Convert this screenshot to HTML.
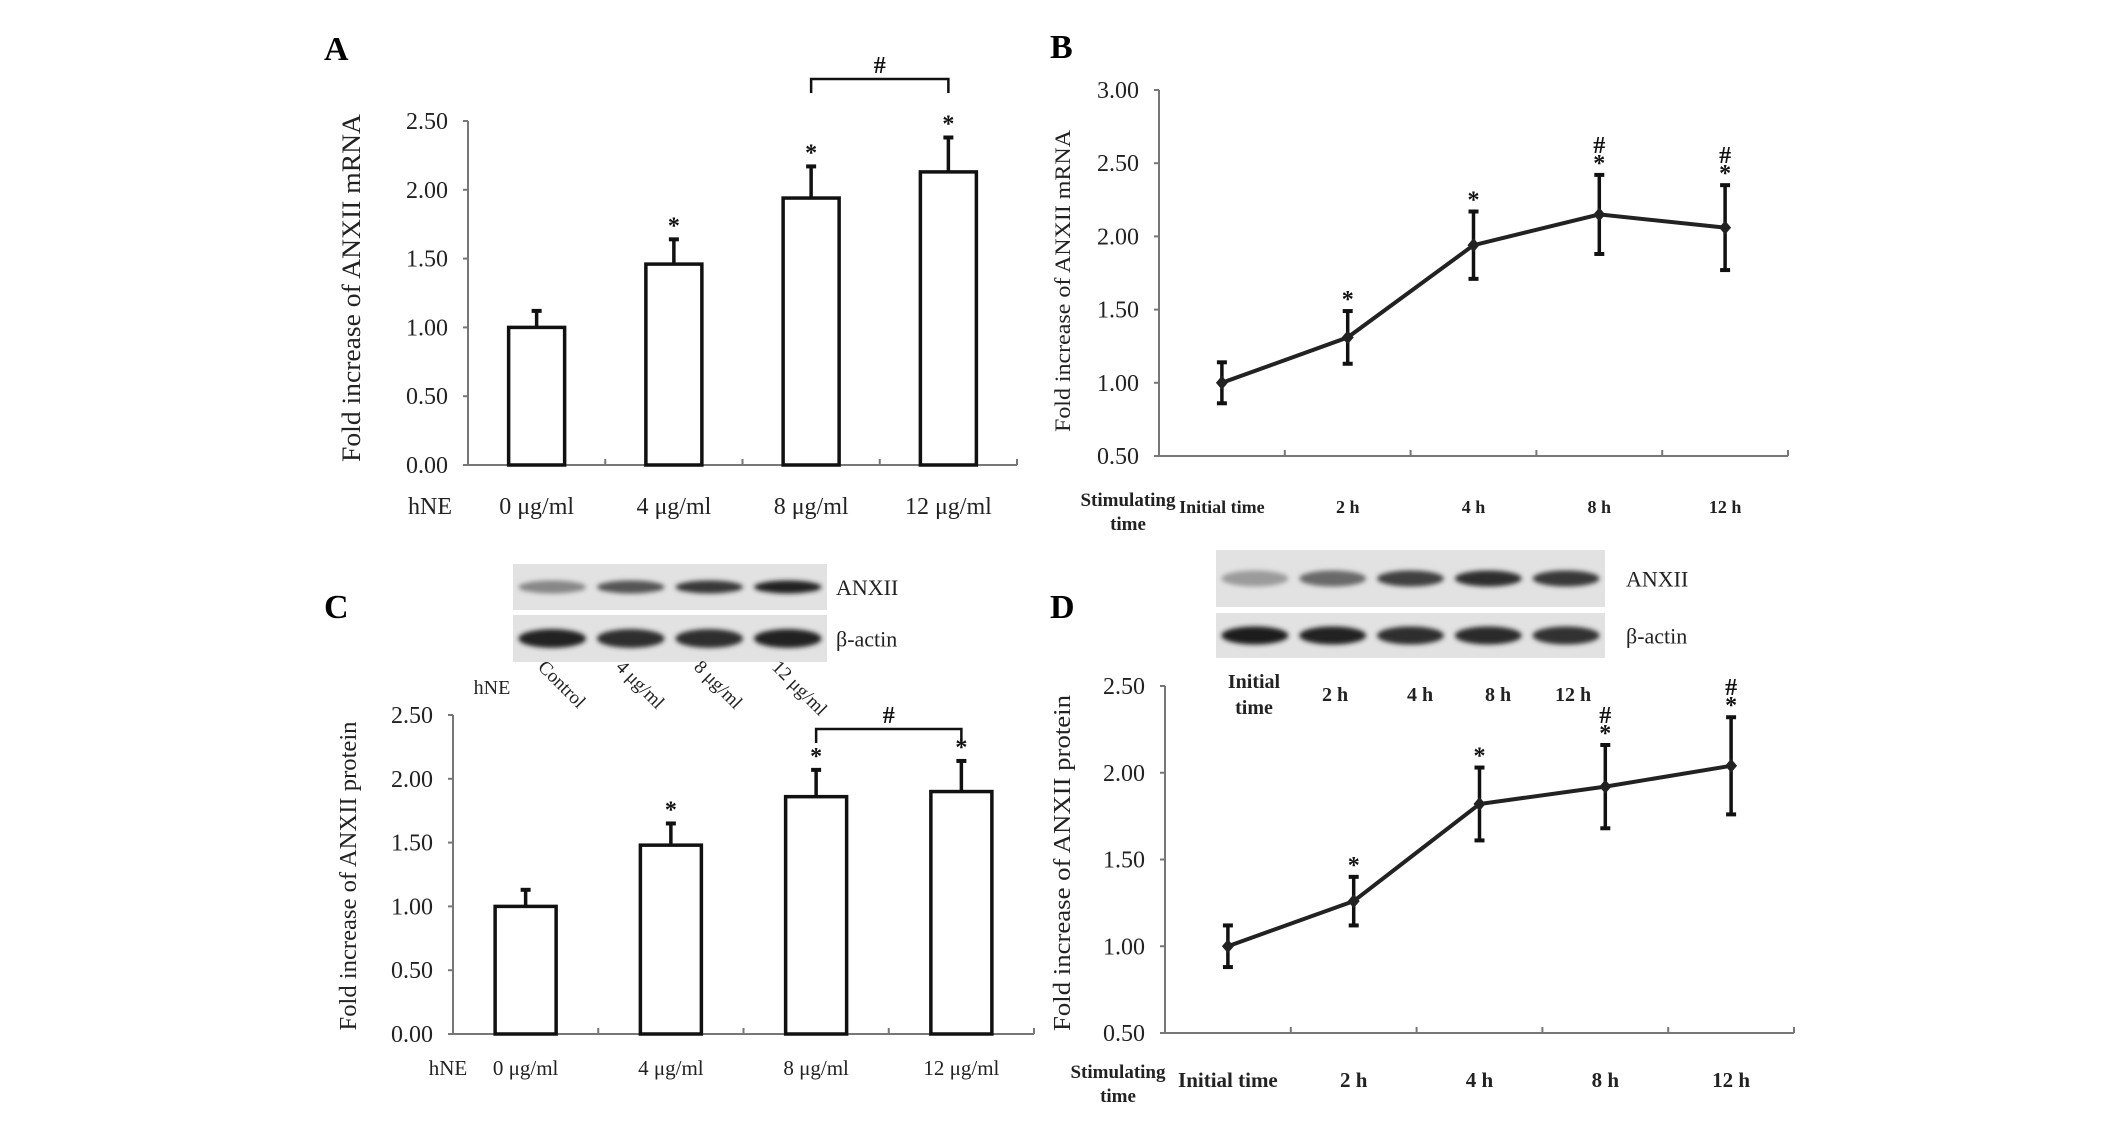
<!DOCTYPE html>
<html><head><meta charset="utf-8"><style>
html,body{margin:0;padding:0;background:#fff;overflow:hidden;}
svg{display:block;font-family:"Liberation Serif",serif;}
</style></head><body>
<svg id="fig" width="2126" height="1145" viewBox="0 0 2126 1145" xmlns="http://www.w3.org/2000/svg">
<defs>
<filter id="blur" x="-20%" y="-80%" width="140%" height="260%"><feGaussianBlur stdDeviation="2.5"/></filter>
</defs>
<text x="324" y="60" font-size="34" font-weight="bold">A</text>
<text x="1050" y="58" font-size="34" font-weight="bold">B</text>
<text x="324" y="618" font-size="34" font-weight="bold">C</text>
<text x="1050" y="618" font-size="34" font-weight="bold">D</text>
<g id="layer"></g>
</svg>
<script>
// Panel A data
const catsA = ["0 μg/ml","4 μg/ml","8 μg/ml","12 μg/ml"];
const valsA = [1.00,1.46,1.94,2.13];
const errA = [0.12,0.18,0.23,0.25];
const starA = [false,true,true,true];
const ticksA = ["0.00","0.50","1.00","1.50","2.00","2.50"];
// Panel B data
const catsB = ["Initial time","2 h","4 h","8 h","12 h"];
const valsB = [1.00,1.31,1.94,2.15,2.06];
const errB = [0.14,0.18,0.23,0.27,0.29];
const starB = [false,true,true,true,true];
const hashB = [false,false,false,true,true];
const ticksB = ["0.50","1.00","1.50","2.00","2.50","3.00"];
// Panel C data
const catsC = ["0 μg/ml","4 μg/ml","8 μg/ml","12 μg/ml"];
const valsC = [1.00,1.48,1.86,1.90];
const errC = [0.13,0.17,0.21,0.24];
const starC = [false,true,true,true];
const ticksC = ["0.00","0.50","1.00","1.50","2.00","2.50"];
// Panel D data
const catsD = ["Initial time","2 h","4 h","8 h","12 h"];
const valsD = [1.00,1.26,1.82,1.92,2.04];
const errD = [0.12,0.14,0.21,0.24,0.28];
const starD = [false,true,true,true,true];
const hashD = [false,false,false,true,true];
const ticksD = ["0.50","1.00","1.50","2.00","2.50"];
// Blot intensities (0-1 darkness)
const blotCTop = [0.45,0.7,0.85,0.95];
const blotCBot = [0.95,0.9,0.9,0.95];
const blotDTop = [0.35,0.6,0.8,0.9,0.85];
const blotDBot = [0.98,0.95,0.9,0.92,0.88];

const NS="http://www.w3.org/2000/svg";
const layer=document.getElementById('layer');
function mk(tag,attrs,parent,text){const e=document.createElementNS(NS,tag);for(const k in attrs)e.setAttribute(k,attrs[k]);if(text!==undefined)e.textContent=text;(parent||layer).appendChild(e);return e;}

function axes(p){
  const g=mk('g',{});
  
  
  mk('line',{x1:p.x0,y1:p.yTop,x2:p.x0,y2:p.yBot,stroke:'#777','stroke-width':2},g);
  mk('line',{x1:p.x0,y1:p.yBot,x2:p.x1,y2:p.yBot,stroke:'#777','stroke-width':2},g);
  const n=p.cats.length,cw=(p.x1-p.x0)/n;
  for(let i=1;i<=n;i++){mk('line',{x1:p.x0+cw*i,y1:p.yBot,x2:p.x0+cw*i,y2:p.yBot-6,stroke:'#777','stroke-width':2},g);}
  p.ticks.forEach(t=>{const v=parseFloat(t);const y=p.ys(v);
    mk('line',{x1:p.x0-5,y1:y,x2:p.x0,y2:y,stroke:'#777','stroke-width':2},g);
    const tx=mk('text',{x:p.x0-20,y:y+8,'font-size':24,'text-anchor':'end',fill:'#222'},g,t);
    
    
  });
  const tt=mk('text',{transform:`translate(${p.titleX},${p.titleC}) rotate(-90)`,'font-size':p.titleSize,'text-anchor':'middle',fill:'#222',textLength:p.titleLen,lengthAdjust:'spacingAndGlyphs'},g,p.title);
  
  
  p.cats.forEach((c,i)=>{const t=mk('text',{x:p.x0+cw*(i+0.5),y:p.labY,'font-size':p.labSize,'text-anchor':'middle',fill:'#222','font-weight':p.labBold?'bold':'normal'},g,c);
    
    });
  return cw;
}
function star(x,y,g,ch){const t=mk('text',{x:x,y:y,'font-size':24,'font-weight':'bold','text-anchor':'middle',fill:'#111'},g,ch);
  
  }

function barPanel(p){
  p.ys=v=>p.yBot-(v-p.ymin)/(p.ymax-p.ymin)*(p.yBot-p.yTop);
  const cw=axes(p);
  const g=mk('g',{});
  
  
  p.vals.forEach((v,i)=>{const cx=p.x0+cw*(i+0.5);const y=p.ys(v);
    const top=p.ys(v+p.err[i]);
    mk('line',{x1:cx,y1:y,x2:cx,y2:top,stroke:'#111','stroke-width':3.5},g);
    mk('line',{x1:cx-5,y1:top,x2:cx+5,y2:top,stroke:'#111','stroke-width':4},g);
    const r=mk('rect',{x:cx-p.bw/2,y:y,width:p.bw,height:p.yBot-y,fill:'#fff',stroke:'#111','stroke-width':3.5},g);
    
    
    if(p.star[i]) star(cx,top-6,g,'*');
  });
  const c3=p.x0+cw*2.5,c4=p.x0+cw*3.5;
  const by=p.brY;
  const br=mk('path',{d:`M${c3} ${by+14} V${by} H${c4} V${by+14}`,fill:'none',stroke:'#111','stroke-width':2.5},g);
  
  
  star((c3+c4)/2,by-6,g,'#');
}
function linePanel(p){
  p.ys=v=>p.yBot-(v-p.ymin)/(p.ymax-p.ymin)*(p.yBot-p.yTop);
  const cw=axes(p);
  const g=mk('g',{});
  
  
  const pts=p.vals.map((v,i)=>[p.x0+cw*(i+0.5),p.ys(v)]);
  const l=mk('polyline',{points:pts.map(q=>q.join(',')).join(' '),fill:'none',stroke:'#222','stroke-width':4},g);
  
  
  p.vals.forEach((v,i)=>{const [x,y]=pts[i];const t=p.ys(v+p.err[i]),b=p.ys(v-p.err[i]);
    mk('line',{x1:x,y1:t,x2:x,y2:b,stroke:'#111','stroke-width':3.5},g);
    mk('line',{x1:x-5,y1:t,x2:x+5,y2:t,stroke:'#111','stroke-width':4},g);
    mk('line',{x1:x-5,y1:b,x2:x+5,y2:b,stroke:'#111','stroke-width':4},g);
    const d=mk('path',{d:`M${x} ${y-7} L${x+6} ${y} L${x} ${y+7} L${x-6} ${y} Z`,fill:'#222'},g);
    
    
    if(p.star[i]) star(x,t-4,g,'*');
    if(p.hash[i]) star(x,t-22,g,'#');
  });
  const s1=mk('text',{x:p.stimX,y:p.stimY,'font-size':19,'font-weight':'bold','text-anchor':'middle',fill:'#222'},g,'Stimulating');
  
  
  const s2=mk('text',{x:p.stimX,y:p.stimY+24,'font-size':19,'font-weight':'bold','text-anchor':'middle',fill:'#222'},g,'time');
  
  
}
function blot(b){
  const g=mk('g',{});
  
  
  [[b.top,b.y1,b.h1],[b.bot,b.y2,b.h2]].forEach(([arr,y,h],k)=>{
    mk('rect',{x:b.x,y:y,width:b.w,height:h,fill:'#e2e2e2'},g);
    const lw=b.w/arr.length;
    arr.forEach((d,i)=>{const c=Math.round(225-d*200);
      const e=mk('ellipse',{cx:b.x+lw*(i+0.5),cy:y+h/2,rx:lw*0.43,ry:h*(k?0.2:0.14),fill:`rgb(${c},${c},${c})`,filter:'url(#blur)'},g);
      
      
    });
  });
  const a=mk('text',{x:b.lx,y:b.y1+b.h1/2+8,'font-size':22,fill:'#222'},g,'ANXII');
  
  
  const c=mk('text',{x:b.lx,y:b.y2+b.h2/2+8,'font-size':22,fill:'#222'},g,'β-actin');
  
  
}

barPanel({name:'panel-a',cats:catsA,vals:valsA,err:errA,star:starA,ticks:ticksA,ymin:0,ymax:2.5,
  x0:468,x1:1017,yTop:121,yBot:465,bw:56,titleX:360,titleC:288,titleLen:348,titleSize:26,title:'Fold increase of ANXII mRNA',labY:514,labSize:24,brY:79});
const hA=mk('text',{x:430,y:514,'font-size':24,'text-anchor':'middle',fill:'#222'},null,'hNE');


linePanel({name:'panel-b',cats:catsB,vals:valsB,err:errB,star:starB,hash:hashB,ticks:ticksB,ymin:0.5,ymax:3.0,
  x0:1159,x1:1788,yTop:90,yBot:456,titleX:1070,titleC:281,titleLen:302,titleSize:22,title:'Fold increase of ANXII mRNA',labY:513,labSize:18,labBold:true,stimX:1128,stimY:506});
barPanel({name:'panel-c',cats:catsC,vals:valsC,err:errC,star:starC,ticks:ticksC,ymin:0,ymax:2.5,
  x0:453,x1:1034,yTop:715,yBot:1034,bw:61,titleX:356,titleC:876,titleLen:309,titleSize:24,title:'Fold increase of ANXII protein',labY:1075,labSize:21,brY:729});
const hC=mk('text',{x:448,y:1075,'font-size':21,'text-anchor':'middle',fill:'#222'},null,'hNE');


linePanel({name:'panel-d',cats:catsD,vals:valsD,err:errD,star:starD,hash:hashD,ticks:ticksD,ymin:0.5,ymax:2.5,
  x0:1165,x1:1794,yTop:686,yBot:1033,titleX:1070,titleC:863,titleLen:336,titleSize:24,title:'Fold increase of ANXII protein',labY:1087,labSize:21,labBold:true,stimX:1118,stimY:1078});

blot({name:'blot-c',x:513,w:314,y1:564,h1:46,y2:615,h2:47,top:blotCTop,bot:blotCBot,lx:836});
blot({name:'blot-d',x:1216,w:389,y1:550,h1:57,y2:613,h2:45,top:blotDTop,bot:blotDBot,lx:1626});

const laneC=["Control","4 μg/ml","8 μg/ml","12 μg/ml"];
const hb=mk('text',{x:492,y:694,'font-size':20,'text-anchor':'middle',fill:'#222'},null,'hNE');


laneC.forEach((t,i)=>{const x=537+i*78,y=668;
  const e=mk('text',{x:0,y:0,transform:`translate(${x},${y}) rotate(45)`,'font-size':19,fill:'#222'},null,t);
  
  });
const laneD=["2 h","4 h","8 h","12 h"];
const il=mk('text',{x:1254,y:688,'font-size':20,'font-weight':'bold','text-anchor':'middle',fill:'#222'},null,'Initial');


const it=mk('text',{x:1254,y:714,'font-size':20,'font-weight':'bold','text-anchor':'middle',fill:'#222'},null,'time');


laneD.forEach((t,i)=>{const e=mk('text',{x:[1335,1420,1498,1573][i],y:701,'font-size':20,'font-weight':'bold','text-anchor':'middle',fill:'#222'},null,t);
  
  });
</script>
</body></html>
